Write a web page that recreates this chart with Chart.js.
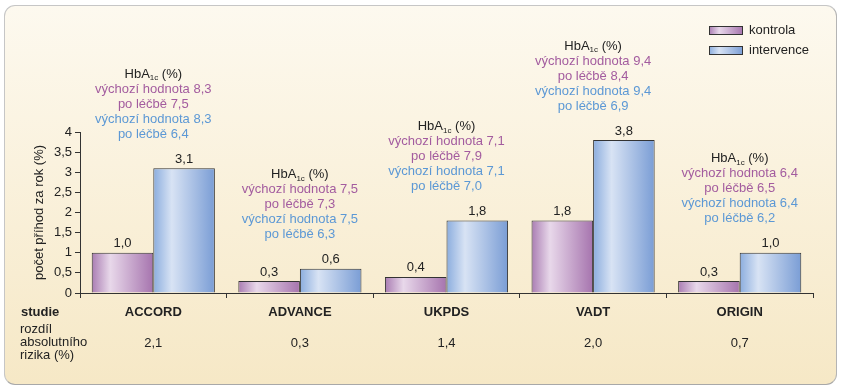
<!DOCTYPE html>
<html>
<head>
<meta charset="utf-8">
<script src="https://cdn.jsdelivr.net/npm/chart.js@4.4.1/dist/chart.umd.min.js"></script>
<style>
  html, body { margin: 0; padding: 0; background: #fff; }
  #wrap { position: relative; width: 843px; height: 390px; }
  #panel {
    position: absolute; left: 4px; top: 5px; width: 831px; height: 378px;
    border: 1px solid #c6c6c6; border-bottom-color: #a8a8a8; border-right-color: #b4b4b4;
    border-radius: 11px;
    background: linear-gradient(#fdf9ef, #f6e8c6);
  }
  canvas { position: absolute; left: 0; top: 0; }
</style>
</head>
<body>
<div id="wrap">
  <div id="panel"></div>
  <canvas id="chart" width="843" height="390"></canvas>
</div>
<script>
// data
var studies = ["ACCORD", "ADVANCE", "UKPDS", "VADT", "ORIGIN"];
var kontrola = [1.0, 0.3, 0.4, 1.8, 0.3];
var intervence = [3.1, 0.6, 1.8, 3.8, 1.0];
var riskDiff = ["2,1", "0,3", "1,4", "2,0", "0,7"];
var baseKontrola = ["8,3", "7,5", "7,1", "9,4", "6,4"];
var afterKontrola = ["7,5", "7,3", "7,9", "8,4", "6,5"];
var baseIntervence = ["8,3", "7,5", "7,1", "9,4", "6,4"];
var afterIntervence = ["6,4", "6,3", "7,0", "6,9", "6,2"];
var yTicks = [0, 0.5, 1, 1.5, 2, 2.5, 3, 3.5, 4];

var FONT = '"Liberation Sans", Arial, sans-serif';
var PURPLE = "#a35c9f";
var BLUE = "#5c98d5";
var TEXT = "#222";
var CAT_PCT = 0.84;

var purpleStops = [[0, "#a97cb2"], [0.3, "#e8d8ea"], [1, "#a674ae"]];
var blueStops = [[0, "#8badde"], [0.3, "#d8e3f4"], [1, "#7a9dd5"]];

function comma(v) { return v.toFixed(1).replace(".", ","); }

function barGradient(stops) {
  return function(ctx) {
    var chart = ctx.chart;
    if (!chart.chartArea || ctx.dataIndex === undefined) return stops[1][1];
    var x = chart.scales.x;
    var cx = x.getPixelForValue(ctx.dataIndex);
    var bw = x.width / studies.length * CAT_PCT / 2;
    var left = ctx.datasetIndex === 0 ? cx - bw : cx;
    var g = chart.ctx.createLinearGradient(left, 0, left + bw, 0);
    stops.forEach(function(s) { g.addColorStop(s[0], s[1]); });
    return g;
  };
}

function boxGradient(c, x, w, stops) {
  var g = c.createLinearGradient(x, 0, x + w, 0);
  stops.forEach(function(s) { g.addColorStop(s[0], s[1]); });
  return g;
}

// draws value labels, HbA1c notes, legend and the table under the axis
var extras = {
  id: "extras",
  afterDraw: function(chart) {
    var c = chart.ctx;
    var m0 = chart.getDatasetMeta(0), m1 = chart.getDatasetMeta(1);
    var x = chart.scales.x;
    c.save();
    c.textBaseline = "middle";
    c.textAlign = "center";

    // values above bars
    c.font = "13px " + FONT;
    c.fillStyle = TEXT;
    [m0, m1].forEach(function(meta, di) {
      var vals = di === 0 ? kontrola : intervence;
      meta.data.forEach(function(bar, i) {
        c.fillText(comma(vals[i]), bar.x, bar.y - 9);
      });
    });

    // HbA1c notes
    studies.forEach(function(s, i) {
      var cx = x.getPixelForValue(i);
      var top = Math.min(m0.data[i].y, m1.data[i].y);
      var last = top - 34;
      var lines = [
        ["výchozí hodnota " + baseKontrola[i], PURPLE],
        ["po léčbě " + afterKontrola[i], PURPLE],
        ["výchozí hodnota " + baseIntervence[i], BLUE],
        ["po léčbě " + afterIntervence[i], BLUE]
      ];
      lines.forEach(function(l, k) {
        c.fillStyle = l[1];
        c.font = "13px " + FONT;
        c.fillText(l[0], cx, last - (3 - k) * 15);
      });
      // header with subscript
      var y = last - 4 * 15;
      c.font = "13px " + FONT;
      var w1 = c.measureText("HbA").width;
      var w3 = c.measureText(" (%)").width;
      c.font = "8px " + FONT;
      var w2 = c.measureText("1c").width;
      var sx = cx - (w1 + w2 + w3) / 2;
      c.textAlign = "left";
      c.fillStyle = TEXT;
      c.font = "13px " + FONT;
      c.fillText("HbA", sx, y);
      c.font = "8px " + FONT;
      c.fillText("1c", sx + w1, y + 4);
      c.font = "13px " + FONT;
      c.fillText(" (%)", sx + w1 + w2, y);
      c.textAlign = "center";
    });

    // table under the chart
    c.fillStyle = TEXT;
    c.font = "bold 13px " + FONT;
    studies.forEach(function(s, i) {
      c.fillText(s, x.getPixelForValue(i), 312);
    });
    c.font = "13px " + FONT;
    riskDiff.forEach(function(d, i) {
      c.fillText(d, x.getPixelForValue(i), 343);
    });
    c.textAlign = "left";
    c.font = "bold 13px " + FONT;
    c.fillText("studie", 21, 312);
    c.font = "13px " + FONT;
    c.fillText("rozdíl", 20, 329);
    c.fillText("absolutního", 20, 342);
    c.fillText("rizika (%)", 20, 355);

    // legend
    var items = [["kontrola", purpleStops], ["intervence", blueStops]];
    items.forEach(function(it, k) {
      var by = 26 + k * 20;
      c.fillStyle = boxGradient(c, 709, 34, it[1]);
      c.fillRect(709, by, 34, 9);
      c.strokeStyle = "#333";
      c.lineWidth = 1;
      c.strokeRect(709.5, by + 0.5, 33, 8);
      c.fillStyle = TEXT;
      c.font = "13px " + FONT;
      c.fillText(it[0], 749, by + 4.5);
    });
    c.restore();
  }
};

new Chart(document.getElementById("chart"), {
  type: "bar",
  data: {
    labels: studies,
    datasets: [
      {
        label: "kontrola",
        data: kontrola,
        backgroundColor: barGradient(purpleStops),
        borderColor: "#333",
        borderWidth: 1,
        barPercentage: 1,
        categoryPercentage: CAT_PCT
      },
      {
        label: "intervence",
        data: intervence,
        backgroundColor: barGradient(blueStops),
        borderColor: "#333",
        borderWidth: 1,
        barPercentage: 1,
        categoryPercentage: CAT_PCT
      }
    ]
  },
  options: {
    responsive: false,
    animation: false,
    layout: { padding: { left: 32, right: 30, top: 132, bottom: 92 } },
    plugins: { legend: { display: false }, tooltip: { enabled: false } },
    scales: {
      x: {
        grid: { display: true, drawOnChartArea: false, drawTicks: true, tickLength: 5, color: "#333", offset: true },
        border: { color: "#333", width: 1 },
        ticks: { display: false },
        afterFit: function(s) { s.height = 5; }
      },
      y: {
        min: 0,
        max: 4,
        afterBuildTicks: function(s) { s.ticks = yTicks.map(function(v) { return { value: v }; }); },
        ticks: {
          color: TEXT,
          font: { family: FONT, size: 13 },
          padding: 3,
          callback: function(v) { return String(v).replace(".", ","); }
        },
        grid: { drawOnChartArea: false, tickLength: 5, color: "#333" },
        border: { color: "#333", width: 1 },
        title: {
          display: true,
          text: "počet příhod za rok (%)",
          color: TEXT,
          font: { family: FONT, size: 13 },
          padding: 0
        },
        afterFit: function(s) { s.width = 48; }
      }
    }
  },
  plugins: [extras]
});
</script>
</body>
</html>
